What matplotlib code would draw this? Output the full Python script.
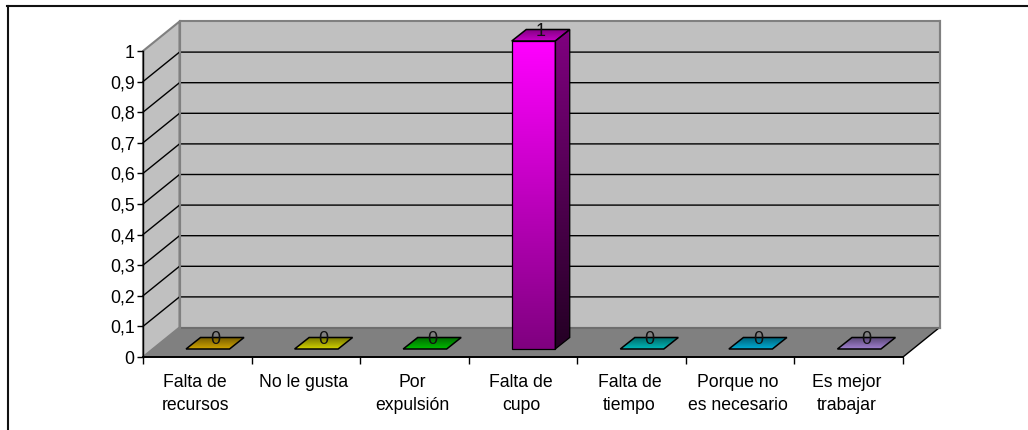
import numpy as np
import matplotlib
matplotlib.use("Agg")
import matplotlib.pyplot as plt
from matplotlib.colors import LinearSegmentedColormap, to_rgb
from matplotlib.patches import Polygon
from matplotlib.transforms import ScaledTranslation

categories = ["Falta de\nrecursos", "No le gusta", "Por\nexpulsión", "Falta de\ncupo",
              "Falta de\ntiempo", "Porque no\nes necesario", "Es mejor\ntrabajar"]
values = [0, 0, 0, 1, 0, 0, 0]
bar_colors = ["#D0A400", "#D2D200", "#00BC00", "#FF00FF", "#00B8B8", "#00ACD4", "#A080D0"]
y_ticks = [0, 0.1, 0.2, 0.3, 0.4, 0.5, 0.6, 0.7, 0.8, 0.9, 1]
y_labels = ["0", "0,1", "0,2", "0,3", "0,4", "0,5", "0,6", "0,7", "0,8", "0,9", "1"]

W, H = 1028, 430
L, R, T, B = 143, 903, 51, 357
plt.rcParams["font.family"] = ["Liberation Sans", "DejaVu Sans"]
fig = plt.figure(figsize=(W / 100, H / 100), dpi=100)
ax = fig.add_axes([L / W, 1 - B / H, (R - L) / W, (B - T) / H])
ax.set_xlim(0, len(categories))
ax.set_ylim(0, 1)
ax.patch.set_visible(False)

ux = (R - L) / len(categories)   # pixels per x unit
uy = (B - T)                     # pixels per y unit


def px(dx, dy):
    """Pixel offset (dy upward) expressed in data units."""
    return dx / ux, dy / uy


WX, WY = px(36.5, 29.5)          # depth of the chart box
BAR_W = 43.5 / ux
FX, FY = px(10.5, 8)             # bar front-plane offset inside the box
DX, DY = px(14.5, 11.5)          # depth of each bar
n = len(categories)


def poly(points, fc="none", ec="none", lw=1.0, z=1):
    p = Polygon(points, closed=True, facecolor=fc, edgecolor=ec, linewidth=lw,
                clip_on=False, zorder=z, joinstyle="miter")
    ax.add_patch(p)
    return p


def gradient(points, c_top, c_bottom, z):
    xs, ys = zip(*points)
    cmap = LinearSegmentedColormap.from_list("g", [c_top, c_bottom])
    im = ax.imshow(np.linspace(0, 1, 128).reshape(-1, 1), cmap=cmap, aspect="auto",
                   extent=[min(xs), max(xs), min(ys), max(ys)], origin="upper", zorder=z)
    clip = poly(points, z=z)
    im.set_clip_path(clip)
    im.set_clip_box(fig.bbox)


def scale(c, f):
    return tuple(min(1, v * f) for v in to_rgb(c))


# chart box: back wall, side wall, floor
poly([(WX, WY), (n + WX, WY), (n + WX, 1 + WY), (WX, 1 + WY)], "#C0C0C0", "#808080", 1.5, z=1)
poly([(0, 0), (WX, WY), (WX, 1 + WY), (0, 1)], "#C0C0C0", "#808080", 1.5, z=1)
poly([(0, 0), (n, 0), (n + WX, WY), (WX, WY)], "#808080", "none", z=1)

# gridlines
for t in y_ticks[1:-1]:
    ax.plot([0, WX, n + WX], [t, t + WY, t + WY], color="black", lw=1.0, clip_on=False, zorder=2)
ax.plot([n, n + WX], [0, WY], color="black", lw=1.0, clip_on=False, zorder=2)
ax.plot([WX, n + WX], [WY, WY], color="#6E6E6E", lw=1.5, clip_on=False, zorder=2)
ax.plot([WX, WX], [WY, 1 + WY], color="#808080", lw=1.5, clip_on=False, zorder=2)
ax.plot([n + WX, n + WX], [WY, 1 + WY], color="#808080", lw=1.5, clip_on=False, zorder=2)

# bars
RISE = 2 / uy
for i, (v, c) in enumerate(zip(values, bar_colors)):
    x0 = i + 0.5 - BAR_W / 2 + FX
    x1 = x0 + BAR_W
    y0 = FY
    y1 = v + FY + (RISE if v > 0 else 0)
    front = [(x0, y0), (x1, y0), (x1, y1), (x0, y1)]
    side = [(x1, y0), (x1 + DX, y0 + DY), (x1 + DX, y1 + DY), (x1, y1)]
    top = [(x0, y1), (x1, y1), (x1 + DX, y1 + DY), (x0 + DX, y1 + DY)]
    if v > 0:
        gradient(front, c, scale(c, 0.5), z=3)
        gradient(side, scale(c, 0.5), scale(c, 0.14), z=3)
        gradient(top, scale(c, 0.5), scale(c, 0.78), z=3)
        poly(front, ec="black", lw=0.9, z=4)
        poly(side, ec="black", lw=0.9, z=4)
    else:
        gradient(top, scale(c, 0.55), c, z=3)
    poly(top, ec="black", lw=1.1, z=4)
    ax.text(x0 + BAR_W / 2 + DX / 2, y1 + DY / 2 + 4 / uy, f"{v}", ha="center", va="center",
            fontsize=13, color="#111111", zorder=5, clip_on=False)

# axes
for s in ("top", "right"):
    ax.spines[s].set_visible(False)
for s in ("left", "bottom"):
    ax.spines[s].set_color("black")
    ax.spines[s].set_zorder(6)
ax.spines["left"].set_linewidth(1.0)
ax.spines["bottom"].set_linewidth(1.4)
ax.set_yticks(y_ticks, y_labels, fontsize=12.8)
ax.set_xticks(np.arange(n + 1), [""] * (n + 1))
ax.set_xticks(np.arange(n) + 0.5, categories, minor=True, fontsize=12.7, linespacing=1.5, va="top")
ax.tick_params(axis="x", which="major", length=5, width=1, color="black")
ax.tick_params(axis="x", which="minor", length=0, pad=12)
ax.tick_params(axis="y", length=4, width=1, pad=2)
shift = ScaledTranslation(-2 / 100, 0, fig.dpi_scale_trans)
for lab in ax.get_xticklabels(minor=True):
    lab.set_transform(lab.get_transform() + shift)

# outer frame: only top and left are visible in the crop
fig.add_artist(plt.Line2D([7 / W, 1], [1 - 5.5 / H, 1 - 5.5 / H], color="#111111", lw=1.5))
fig.add_artist(plt.Line2D([7.5 / W, 7.5 / W], [0, 1 - 5.5 / H], color="#111111", lw=1.5))

fig.savefig("out.png", dpi=100)
